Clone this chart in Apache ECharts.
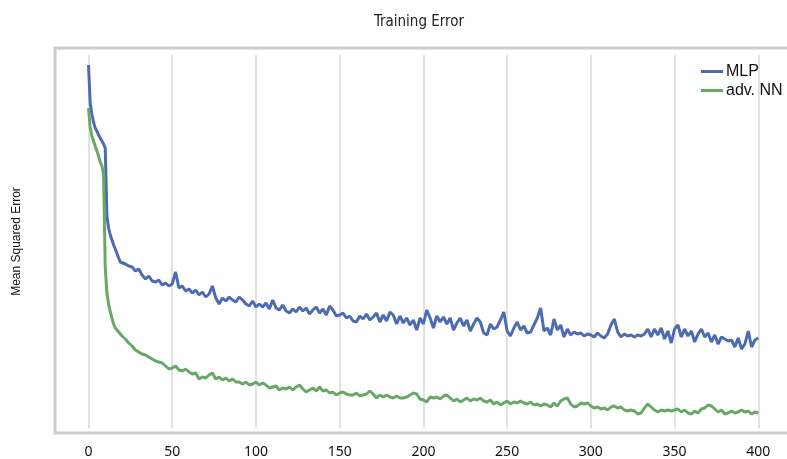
<!DOCTYPE html>
<html>
<head>
<meta charset="utf-8">
<script src="https://cdn.jsdelivr.net/npm/echarts@6/dist/echarts.min.js"></script>
<style>
html,body{margin:0;padding:0;background:#fff;}
#chart{width:787px;height:459px;}
</style>
</head>
<body>
<div id="chart"></div>
<script>
const seriesNames = ['MLP', 'adv. NN'];
const xTicks = [0, 50, 100, 150, 200, 250, 300, 350, 400];
const epochs = [
  0,1,2,3,4,5,6,7,8,9,10,11,12,13,14,15,16,17,18,19,20,
  22,24,26,28,30,32,34,36,38,40,
  42,44,46,48,50,52,54,56,58,60,
  62,64,66,68,70,72,74,76,78,80,
  82,84,86,88,90,92,94,96,98,100,
  102,104,106,108,110,112,114,116,118,120,
  122,124,126,128,130,132,134,136,138,140,
  142,144,146,148,150,152,154,156,158,160,
  162,164,166,168,170,172,174,176,178,180,
  182,184,186,188,190,192,194,196,198,200,
  202,204,206,208,210,212,214,216,218,220,
  222,224,226,228,230,232,234,236,238,240,
  242,244,246,248,250,252,254,256,258,260,
  262,264,266,268,270,272,274,276,278,280,
  282,284,286,288,290,292,294,296,298,300,
  302,304,306,308,310,312,314,316,318,320,
  322,324,326,328,330,332,334,336,338,340,
  342,344,346,348,350,352,354,356,358,360,
  362,364,366,368,370,372,374,376,378,380,
  382,384,386,388,390,392,394,396,398,400
];
const mlpError = [
  363,325,314,306,300,297,293,290,287,284,280,212,200,193,188,183,179,177,170,166,167,
  164,162,161,157,159,153,149,152,147,146,
  148,143,145,142,144,156,140,142,137,139,
  135,138,133,136,131,134,142,130,124,130,
  127,131,128,126,131,128,124,122,127,121,
  124,121,125,119,128,120,118,123,117,115,
  119,116,121,117,120,114,118,121,115,119,
  113,122,118,112,113,115,110,112,107,106,
  112,109,114,108,111,115,106,113,107,116,
  113,104,112,105,110,103,108,98,110,104,
  118,110,100,112,106,111,104,110,98,105,
  110,102,108,97,104,110,106,95,93,104,
  99,101,108,116,97,92,100,106,98,102,
  95,96,103,110,120,97,100,93,109,98,
  103,91,99,93,96,94,95,92,94,93,
  91,95,92,90,94,103,109,96,91,94,
  92,93,91,93,92,94,99,91,99,93,
  100,89,97,85,99,103,91,99,92,97,
  86,94,99,91,95,86,93,84,91,89,
  87,88,81,90,79,84,97,81,88,90
];
const advError = [
  320,301,292,287,282,277,272,266,262,254,160,135,124,116,110,104,100,98,96,94,92,
  89,85,82,78,76,74,73,71,69,67,
  66,65,62,59,60,62,58,57,59,56,
  54,55,49,51,50,53,55,49,51,48,
  50,47,49,46,46,44,46,43,44,46,
  43,45,43,40,41,42,38,40,39,41,
  38,41,43,39,36,38,40,37,41,37,
  38,35,36,33,35,36,34,33,33,35,
  32,33,34,37,34,30,33,31,33,31,
  30,32,30,30,31,33,35,34,29,28,
  26,31,30,31,29,32,33,30,27,29,
  26,28,30,27,29,28,30,27,26,28,
  24,26,23,25,27,24,26,25,27,25,
  24,26,23,24,22,24,23,21,25,22,
  27,29,30,24,21,22,25,24,25,22,
  20,21,19,20,18,21,22,20,21,18,
  17,18,17,14,15,20,24,21,18,16,
  18,17,18,17,18,19,16,18,15,14,
  17,15,19,20,23,22,19,16,18,14,
  15,17,15,16,18,16,17,14,16,15
];

const pairs = (ys) => epochs.map((x, i) => [x, ys[i]]);

const chart = echarts.init(document.getElementById('chart'), null, {renderer: 'canvas'});
chart.setOption({
  animation: false,
  backgroundColor: '#ffffff',
  title: {
    text: 'Training Error',
    left: 414,
    textAlign: 'center',
    top: 10,
    textStyle: {fontFamily: 'Liberation Sans Narrow, DejaVu Sans Condensed, Noto Sans', fontSize: 15, fontWeight: 'normal', color: '#222'}
  },
  legend: {
    data: seriesNames,
    orient: 'vertical',
    left: 696,
    top: 57,
    icon: 'rect',
    itemWidth: 22,
    itemHeight: 3,
    itemGap: 0,
    textStyle: {fontFamily: 'Liberation Sans, Arial', fontSize: 16, lineHeight: 19, color: '#111', padding: [0,0,0,-2]}
  },
  grid: [
    {left: 55, top: 48, right: -40, bottom: 26, show: true, borderColor: '#cccccc', borderWidth: 3, backgroundColor: 'transparent', outerBoundsMode: 'none', containLabel: false},
    {left: 88.5, top: 55, right: 28.7, bottom: 31, outerBoundsMode: 'none', containLabel: false}
  ],
  xAxis: [
    {gridIndex: 0, type: 'value', show: false, min: 0, max: 1},
    {
      gridIndex: 1, type: 'value', min: xTicks[0], max: xTicks[xTicks.length - 1], interval: 50,
      axisLine: {show: false}, axisTick: {show: false},
      splitLine: {show: true, lineStyle: {color: '#e2e2e2', width: 2}},
      axisLabel: {margin: 17, fontFamily: 'Noto Sans', fontSize: 14, color: '#111'}
    }
  ],
  yAxis: [
    {gridIndex: 0, type: 'value', show: false, min: 0, max: 1},
    {
      gridIndex: 1, type: 'value', min: 0, max: 373,
      axisLine: {show: false}, axisTick: {show: false}, axisLabel: {show: false},
      splitLine: {show: false},
      name: 'Mean Squared Error', nameLocation: 'middle', nameGap: 66, nameRotate: 90,
      nameTextStyle: {fontFamily: 'Liberation Sans, Arial', fontSize: 12, color: '#111'}
    }
  ],
  series: [
    {
      name: seriesNames[0], type: 'line', xAxisIndex: 1, yAxisIndex: 1,
      data: pairs(mlpError), showSymbol: false, symbol: 'none',
      lineStyle: {color: '#4d6bb2', width: 3}, itemStyle: {color: '#4d6bb2'}
    },
    {
      name: seriesNames[1], type: 'line', xAxisIndex: 1, yAxisIndex: 1,
      data: pairs(advError), showSymbol: false, symbol: 'none',
      lineStyle: {color: '#68a866', width: 3}, itemStyle: {color: '#68a866'}
    }
  ]
});
</script>
</body>
</html>
